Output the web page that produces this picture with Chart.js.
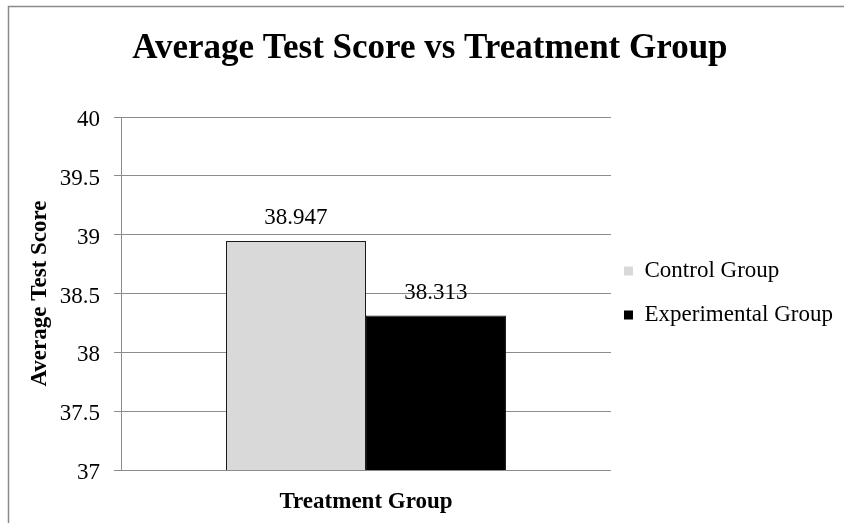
<!DOCTYPE html>
<html>
<head>
<meta charset="utf-8">
<script src="https://cdn.jsdelivr.net/npm/chart.js@4/dist/chart.umd.min.js"></script>
<style>
  html, body { margin: 0; padding: 0; background: #fff; }
  #wrap { width: 844px; height: 523px; }
</style>
</head>
<body>
<div id="wrap"><canvas id="c" width="844" height="523"></canvas></div>
<script>
// Chart data
const categories = ['Treatment Group'];
const seriesNames = ['Control Group', 'Experimental Group'];
const controlScores = [38.947];
const experimentalScores = [38.313];
const seriesColors = ['#d9d9d9', '#000000'];
const yTicks = [37, 37.5, 38, 38.5, 39, 39.5, 40];

const SERIF = '"Liberation Serif", "Times New Roman", serif';

// Gray frame along the top and left edges
const framePlugin = {
  id: 'frame',
  beforeDraw(chart) {
    const ctx = chart.ctx;
    ctx.save();
    ctx.fillStyle = '#fff';
    ctx.fillRect(0, 0, chart.width, chart.height);
    ctx.strokeStyle = '#8a8a8a';
    ctx.lineWidth = 1.5;
    ctx.beginPath();
    ctx.moveTo(8.5, chart.height);
    ctx.lineTo(8.5, 6.5);
    ctx.lineTo(chart.width, 6.5);
    ctx.stroke();
    ctx.restore();
  }
};

// Value labels above each bar
const valueLabels = {
  id: 'valueLabels',
  afterDatasetsDraw(chart) {
    const ctx = chart.ctx;
    ctx.save();
    ctx.font = '23px ' + SERIF;
    ctx.fillStyle = '#000';
    ctx.textAlign = 'center';
    ctx.textBaseline = 'middle';
    chart.data.datasets.forEach((ds, i) => {
      const meta = chart.getDatasetMeta(i);
      meta.data.forEach((bar, j) => {
        ctx.fillText(ds.data[j].toFixed(3), bar.x, bar.y - 23);
      });
    });
    ctx.restore();
  }
};

const seriesData = [controlScores, experimentalScores];

new Chart(document.getElementById('c'), {
  type: 'bar',
  data: {
    labels: categories,
    datasets: seriesNames.map((name, i) => ({
      label: name,
      data: seriesData[i],
      backgroundColor: seriesColors[i],
      borderColor: '#1a1a1a',
      borderWidth: 1,
      borderSkipped: false,
      categoryPercentage: 0.5714,
      barPercentage: 1.0
    }))
  },
  options: {
    responsive: false,
    animation: false,
    devicePixelRatio: 1,
    layout: { padding: { left: 17, right: 1.1, top: 0, bottom: 7.2 } },
    plugins: {
      title: {
        display: true,
        text: 'Average Test Score vs Treatment Group',
        color: '#000',
        font: { family: SERIF, size: 35, weight: 'bold', lineHeight: 1.2 },
        padding: { top: 28.2, bottom: 46.8 }
      },
      legend: {
        position: 'right',
        align: 'center',
        maxWidth: 260,
        // blank title used as a spacer to push the entries down
        title: {
          display: true,
          text: ' ',
          font: { family: SERIF, size: 10, lineHeight: 1 },
          padding: { top: 68, bottom: 0 }
        },
        labels: {
          color: '#000',
          font: { family: SERIF, size: 23, lineHeight: 1.348 },
          boxWidth: 9,
          boxHeight: 9,
          padding: 13,
          generateLabels(chart) {
            const items = Chart.defaults.plugins.legend.labels.generateLabels(chart);
            // single-line arrays so each row takes the font line height
            return items.map(it => Object.assign(it, {
              text: [it.text],
              lineWidth: 0,
              strokeStyle: 'rgba(0,0,0,0)'
            }));
          }
        }
      },
      tooltip: { enabled: false }
    },
    scales: {
      x: {
        grid: { display: false, drawTicks: false },
        border: { display: false },
        ticks: { display: false },
        title: {
          display: true,
          text: 'Treatment Group',
          color: '#000',
          font: { family: SERIF, size: 23, weight: 'bold', lineHeight: 1.2 },
          padding: { top: 18.2, bottom: 0 }
        }
      },
      y: {
        min: yTicks[0],
        max: yTicks[yTicks.length - 1],
        afterBuildTicks(scale) {
          scale.ticks = yTicks.map(v => ({ value: v }));
        },
        ticks: {
          color: '#000',
          font: { family: SERIF, size: 23 },
          padding: 14,
          labelOffset: 3,
          callback: v => String(v)
        },
        grid: { color: '#8c8c8c', lineWidth: 1, tickLength: 7 },
        border: { color: '#8c8c8c', width: 1 },
        title: {
          display: true,
          text: 'Average Test Score',
          color: '#000',
          font: { family: SERIF, size: 23, weight: 'bold', lineHeight: 1.2 },
          padding: { top: 9.2, bottom: -8.05 }
        }
      }
    }
  },
  plugins: [framePlugin, valueLabels]
});
</script>
</body>
</html>
